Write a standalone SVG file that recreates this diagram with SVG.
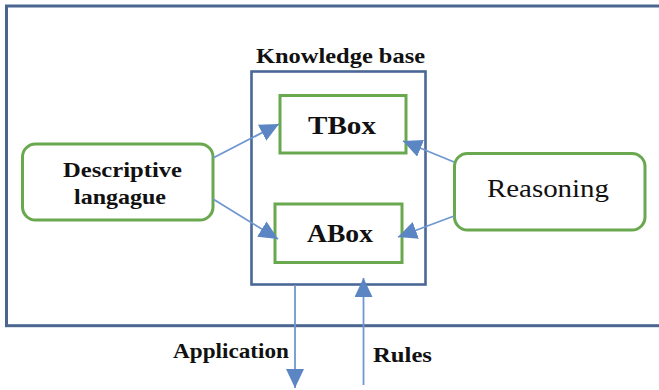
<svg xmlns="http://www.w3.org/2000/svg" width="659" height="390" viewBox="0 0 659 390">
<style>
.frame{fill:none;stroke:#4a6690;stroke-width:3}
.kb{fill:none;stroke:#4a6896;stroke-width:2.6}
.box{fill:#fff;stroke:#6aa84f;stroke-width:3}
.conn{stroke:#6f97cf;stroke-width:1.8;fill:none}
text{font-family:"Liberation Serif",serif !important;fill:#111}
.b{font-weight:bold}
</style>
<defs>
<marker id="ah" markerUnits="userSpaceOnUse" markerWidth="20" markerHeight="20" viewBox="0 0 20 20" refX="19" refY="9" orient="auto">
<path d="M0,0 L19,9 L0,18 z" fill="#5b86c3"/>
</marker>
</defs>
<rect class="frame" x="6.5" y="6" width="660" height="319.7"/>
<g id="kb">
<rect class="kb" x="251.5" y="71.5" width="174" height="213"/>
<text class="b" style="font-family:'Liberation Serif',serif" x="256" y="63" font-size="21" textLength="169" lengthAdjust="spacingAndGlyphs">Knowledge base</text>
</g>
<g id="tbox">
<rect class="box" x="280" y="95.5" width="126" height="57.5"/>
<text class="b" style="font-family:'Liberation Serif',serif" x="308" y="134" font-size="25" textLength="68" lengthAdjust="spacingAndGlyphs">TBox</text>
</g>
<g id="abox">
<rect class="box" x="275" y="204" width="127" height="58.5"/>
<text class="b" style="font-family:'Liberation Serif',serif" x="307" y="242" font-size="25" textLength="66" lengthAdjust="spacingAndGlyphs">ABox</text>
</g>
<g id="descriptive">
<rect class="box" x="22.5" y="144" width="190.5" height="76" rx="13" ry="13"/>
<text class="b" style="font-family:'Liberation Serif',serif" x="63" y="177" font-size="22" textLength="119" lengthAdjust="spacingAndGlyphs">Descriptive</text>
<text class="b" style="font-family:'Liberation Serif',serif" x="74" y="204" font-size="22" textLength="92" lengthAdjust="spacingAndGlyphs">langague</text>
</g>
<g id="reasoning">
<rect class="box" x="454.5" y="153.5" width="190.5" height="76.5" rx="13" ry="13"/>
<text style="font-family:'Liberation Serif',serif" x="487" y="197" font-size="25" textLength="122" lengthAdjust="spacingAndGlyphs">Reasoning</text>
</g>
<g id="labels">
<text class="b" style="font-family:'Liberation Serif',serif" x="173" y="358" font-size="21" textLength="116" lengthAdjust="spacingAndGlyphs">Application</text>
<text class="b" style="font-family:'Liberation Serif',serif" x="373" y="362" font-size="21" textLength="59" lengthAdjust="spacingAndGlyphs">Rules</text>
</g>
<g id="connectors">
<line class="conn" x1="213" y1="158" x2="279" y2="124" marker-end="url(#ah)"/>
<line class="conn" x1="213" y1="199" x2="278" y2="239" marker-end="url(#ah)"/>
<line class="conn" x1="454" y1="162" x2="403" y2="141" marker-end="url(#ah)"/>
<line class="conn" x1="454" y1="216" x2="398" y2="237" marker-end="url(#ah)"/>
<line class="conn" x1="295" y1="285" x2="295" y2="388" marker-end="url(#ah)"/>
<line class="conn" x1="363.5" y1="385" x2="363.5" y2="278" marker-end="url(#ah)"/>
</g>
</svg>
